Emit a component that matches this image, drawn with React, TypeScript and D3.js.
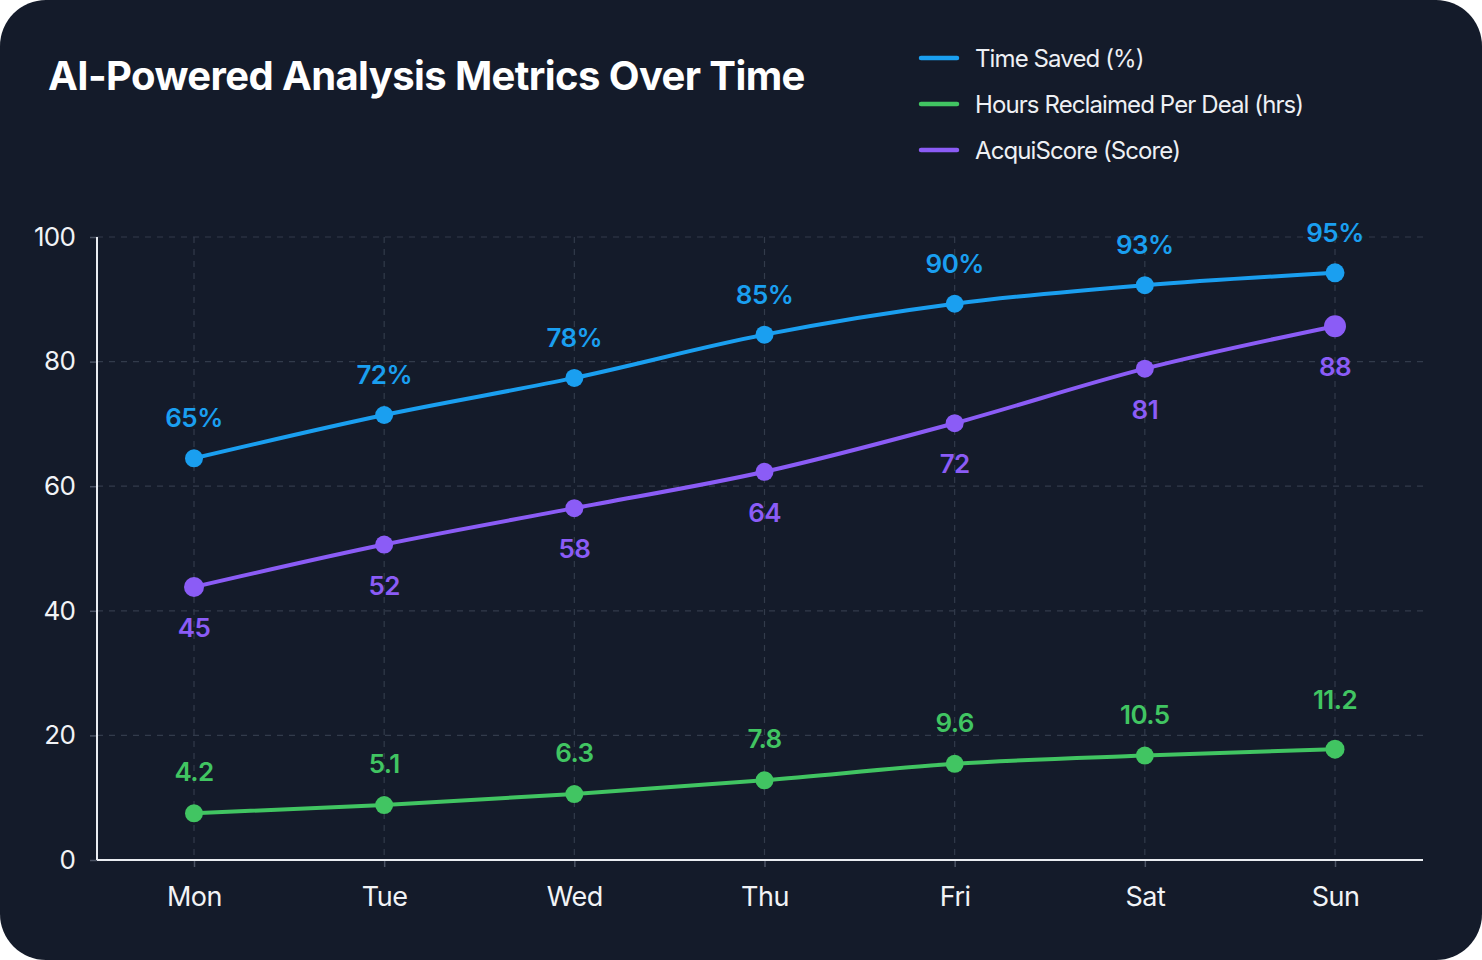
import { useRef, useEffect } from 'react';
import * as d3 from 'd3';

const days = ['Mon', 'Tue', 'Wed', 'Thu', 'Fri', 'Sat', 'Sun'];
const timeSaved = [65, 72, 78, 85, 90, 93, 95];
const hoursReclaimed = [4.2, 5.1, 6.3, 7.8, 9.6, 10.5, 11.2];
const acquiScore = [45, 52, 58, 64, 72, 81, 88];
const yTicks = [0, 20, 40, 60, 80, 100];

const BLUE = '#1a9ff0';
const GREEN = '#41c562';
const PURPLE = '#8b5cf6';

export default function App() {
  const svgRef = useRef<SVGSVGElement>(null);

  useEffect(() => {
    if (!svgRef.current) return;
    const svg = d3.select(svgRef.current);
    svg.selectAll('*').remove();

    const width = 1482;
    const height = 960;
    const font = 'Inter, "Noto Sans", sans-serif';
    const plot = { left: 97, right: 1423, top: 237, bottom: 860 };

    svg.attr('viewBox', `0 0 ${width} ${height}`);

    // card
    svg.append('rect')
      .attr('width', width).attr('height', height)
      .attr('rx', 46).attr('fill', '#141b2a');

    const x = d3.scalePoint<string>().domain(days).range([194, 1335]);
    const y = d3.scaleLinear().domain([0, 100]).range([plot.bottom, plot.top]);
    // hidden secondary scales for each series
    const yBlue = d3.scaleLinear().domain([0, 100.8]).range([plot.bottom, plot.top]);
    const yGreen = d3.scaleLinear().domain([-0.9, 67.1]).range([plot.bottom, plot.top]);
    const yPurple = d3.scaleLinear().domain([0, 102.7]).range([plot.bottom, plot.top]);

    // grid
    const grid = svg.append('g');
    grid.selectAll('line.h')
      .data(yTicks.filter((t) => t > 0))
      .join('line')
      .attr('x1', plot.left).attr('x2', plot.right)
      .attr('y1', (d) => y(d)).attr('y2', (d) => y(d))
      .attr('stroke', '#323b4b').attr('stroke-width', 1.2)
      .attr('stroke-dasharray', '6,6');
    grid.selectAll('line.v')
      .data(days)
      .join('line')
      .attr('x1', (d) => x(d)!).attr('x2', (d) => x(d)!)
      .attr('y1', plot.top).attr('y2', plot.bottom)
      .attr('stroke', '#323b4b').attr('stroke-width', 1.2)
      .attr('stroke-dasharray', '6,6');

    // y axis
    const yAxis = svg.append('g')
      .attr('transform', `translate(${plot.left - 7}, 0)`)
      .call(d3.axisLeft(y).tickValues(yTicks).tickSize(0).tickPadding(15));
    yAxis.select('.domain').remove();
    yAxis.selectAll('.tick line').remove();
    yAxis.selectAll('.tick')
      .append('line')
      .attr('x1', 0).attr('x2', 7)
      .attr('stroke', '#4a5263').attr('stroke-width', 1.5);
    yAxis.selectAll('text')
      .attr('fill', '#f1f3f6')
      .style('font-size', '26px')
      .style('letter-spacing', '-0.8px')
      .style('font-family', font);

    // x axis
    const xAxis = svg.append('g')
      .attr('transform', `translate(0, ${plot.bottom})`)
      .call(d3.axisBottom(x).tickSize(7).tickPadding(20));
    xAxis.select('.domain').remove();
    xAxis.selectAll('.tick line').attr('stroke', '#4a5263').attr('stroke-width', 1.5);
    xAxis.selectAll('text')
      .attr('fill', '#f1f3f6')
      .style('font-size', '27px')
      .style('letter-spacing', '-0.5px')
      .style('font-family', font);

    svg.append('line')
      .attr('x1', plot.left).attr('x2', plot.left)
      .attr('y1', plot.top).attr('y2', plot.bottom)
      .attr('stroke', '#e9ecf1').attr('stroke-width', 2);
    svg.append('line')
      .attr('x1', plot.left).attr('x2', plot.right)
      .attr('y1', plot.bottom).attr('y2', plot.bottom)
      .attr('stroke', '#e9ecf1').attr('stroke-width', 2);

    const series = [
      { values: timeSaved, scale: yBlue, color: BLUE, fmt: (v: number) => `${v}%`, dy: -31, radii: [9, 9, 9, 9, 9, 9, 9.5] },
      { values: acquiScore, scale: yPurple, color: PURPLE, fmt: (v: number) => `${v}`, dy: 50, radii: [10, 9, 9, 9, 9, 9, 11] },
      { values: hoursReclaimed, scale: yGreen, color: GREEN, fmt: (v: number) => v.toFixed(1), dy: -32, radii: [9, 9, 9, 9, 9, 9, 9.5] },
    ];

    series.forEach((s) => {
      const line = d3.line<number>()
        .x((_, i) => x(days[i])!)
        .y((d) => s.scale(d))
        .curve(d3.curveMonotoneX);

      svg.append('path')
        .datum(s.values)
        .attr('d', line)
        .attr('fill', 'none')
        .attr('stroke', s.color)
        .attr('stroke-width', 4)
        .attr('stroke-linecap', 'round');

      svg.append('g').selectAll('circle')
        .data(s.values)
        .join('circle')
        .attr('cx', (_, i) => x(days[i])!)
        .attr('cy', (d) => s.scale(d))
        .attr('r', (_, i) => s.radii[i])
        .attr('fill', s.color);

      svg.append('g').selectAll('text')
        .data(s.values)
        .join('text')
        .attr('x', (_, i) => x(days[i])!)
        .attr('y', (d, i) => s.scale(d) + s.dy - (s.color === GREEN && i === 6 ? 8 : 0))
        .attr('text-anchor', 'middle')
        .attr('fill', s.color)
        .style('font-size', '26px')
        .style('font-weight', 600)
        .style('letter-spacing', '-0.6px')
        .style('font-family', font)
        .text((d) => s.fmt(d));
    });

    // title
    svg.append('text')
      .attr('x', 48).attr('y', 90)
      .attr('fill', '#ffffff')
      .style('font-size', '40px')
      .style('font-weight', 700)
      .style('letter-spacing', '-0.6px')
      .style('font-family', font)
      .text('AI-Powered Analysis Metrics Over Time');

    // legend
    const legendItems = [
      { label: 'Time Saved (%)', color: BLUE },
      { label: 'Hours Reclaimed Per Deal (hrs)', color: GREEN },
      { label: 'AcquiScore (Score)', color: PURPLE },
    ];
    const legend = svg.append('g').attr('transform', 'translate(919, 58)');
    legendItems.forEach((item, i) => {
      const g = legend.append('g').attr('transform', `translate(0, ${i * 46})`);
      g.append('line')
        .attr('x1', 2).attr('x2', 38)
        .attr('stroke', item.color).attr('stroke-width', 4.5)
        .attr('stroke-linecap', 'round');
      g.append('text')
        .attr('x', 56).attr('y', 8.5)
        .attr('fill', '#eef0f4')
        .style('font-size', '24px')
        .style('letter-spacing', '-0.9px')
        .style('font-family', font)
        .text(item.label);
    });
  }, []);

  return (
    <div style={{ position: 'absolute', left: 0, top: 0, width: 1482, height: 960, background: '#ffffff' }}>
      <svg ref={svgRef} width={1482} height={960} style={{ display: 'block' }} />
    </div>
  );
}
